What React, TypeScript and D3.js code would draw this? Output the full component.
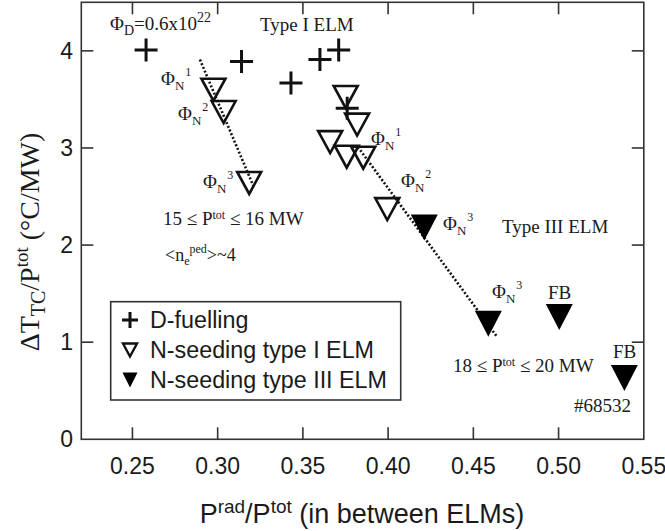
import React from "react";
import * as d3 from "d3";

// D-fuelling shots
const dFuelX = [0.258, 0.314, 0.343, 0.360, 0.371, 0.376];
const dFuelY = [4.01, 3.89, 3.67, 3.91, 4.01, 3.41];

// N-seeding, type I ELM
const nType1X = [0.2975, 0.3035, 0.3185, 0.3751, 0.3818, 0.366, 0.3757, 0.3854, 0.3995];
const nType1Y = [3.60, 3.37, 2.64, 3.525, 3.24, 3.06, 2.91, 2.90, 2.37];

// N-seeding, type III ELM
const nType3X = [0.4212, 0.4588, 0.5004, 0.5386];
const nType3Y = [2.18, 1.19, 1.26, 0.63];

// Trend lines through the N-seeding scans
const trendLowX = [0.2896, 0.3209];
const trendLowY = [3.91, 2.61];
const trendHighX = [0.3823, 0.4637];
const trendHighY = [3.01, 1.06];

const xTicks = [0.25, 0.3, 0.35, 0.4, 0.45, 0.5, 0.55];
const yTicks = [0, 1, 2, 3, 4];

const W = 665;
const H = 531;
const left = 81.3;
const right = 643.8;
const top = 2.3;
const bottom = 439.3;

const x = d3.scaleLinear().domain([0.22, 0.55]).range([left, right]);
const y = d3.scaleLinear().domain([0, 4.5]).range([bottom, top]);

const SERIF = "'Liberation Serif', 'Times New Roman', serif";
const SANS = "'Liberation Sans', Arial, sans-serif";
const INK = "#1a1a1a";

const crossPath = (s: number) => `M${-s},0H${s}M0,${-s}V${s}`;
const triPath = (w: number, h: number) =>
  `M${-w / 2},${-h / 2}L${w / 2},${-h / 2}L0,${h / 2}Z`;

const line = d3
  .line<[number, number]>()
  .x((d) => x(d[0]))
  .y((d) => y(d[1]));

function PhiN({ px, py, n }: { px: number; py: number; n: string }) {
  return (
    <text x={px} y={py} fontFamily={SERIF} fontSize={19} fill={INK}>
      Φ
      <tspan fontSize={13} dy={5}>N</tspan>
      <tspan fontSize={12} dy={-14} dx={1}>{n}</tspan>
    </text>
  );
}

export default function App() {
  const tickLen = 12;
  return (
    <div style={{ position: "absolute", left: 0, top: 0 }}>
      <svg width={W} height={H} style={{ display: "block", background: "#fff" }}>
        {/* frame */}
        <rect
          x={left}
          y={top}
          width={right - left}
          height={bottom - top}
          fill="none"
          stroke="#333"
          strokeWidth={1.6}
        />
        {/* x ticks, bottom and top */}
        {xTicks.slice(0, -1).map((t) => (
          <g key={`xt${t}`} stroke="#333" strokeWidth={1.6}>
            <line x1={x(t)} x2={x(t)} y1={bottom} y2={bottom - tickLen} />
            <line x1={x(t)} x2={x(t)} y1={top} y2={top + tickLen} />
          </g>
        ))}
        {xTicks.map((t) => (
          <text
            key={`xl${t}`}
            x={x(t)}
            y={474}
            textAnchor="middle"
            fontFamily={SANS}
            fontSize={23}
            fill={INK}
          >
            {d3.format(".2f")(t)}
          </text>
        ))}
        {/* y ticks, left and right */}
        {yTicks.map((t) => (
          <g key={`yt${t}`} stroke="#333" strokeWidth={1.6}>
            {t > 0 && <line x1={left} x2={left + tickLen} y1={y(t)} y2={y(t)} />}
            {t > 0 && <line x1={right} x2={right - tickLen} y1={y(t)} y2={y(t)} />}
          </g>
        ))}
        {yTicks.map((t) => (
          <text
            key={`yl${t}`}
            x={73}
            y={y(t) + 8}
            textAnchor="end"
            fontFamily={SANS}
            fontSize={23}
            fill={INK}
          >
            {t}
          </text>
        ))}

        {/* axis titles */}
        <text x={362} y={523} textAnchor="middle" fontFamily={SANS} fontSize={27} fill={INK}>
          P<tspan fontSize={19} dy={-10}>rad</tspan>
          <tspan dy={10}>/P</tspan>
          <tspan fontSize={19} dy={-10}>tot</tspan>
          <tspan dy={10}> (in between ELMs)</tspan>
        </text>
        <text
          transform="translate(39,242) rotate(-90)"
          textAnchor="middle"
          fontFamily={SERIF}
          fontSize={28}
          fill={INK}
        >
          ΔT<tspan fontSize={20} dy={6}>TC</tspan>
          <tspan dy={-6}>/P</tspan>
          <tspan fontSize={19} dy={-11}>tot</tspan>
          <tspan dy={11}> (°C/MW)</tspan>
        </text>

        {/* trend lines */}
        <path
          d={line(trendLowX.map((v, i) => [v, trendLowY[i]]) as [number, number][]) ?? ""}
          fill="none"
          stroke="#111"
          strokeWidth={2.6}
          strokeDasharray="2 2"
        />
        <path
          d={line(trendHighX.map((v, i) => [v, trendHighY[i]]) as [number, number][]) ?? ""}
          fill="none"
          stroke="#111"
          strokeWidth={2.6}
          strokeDasharray="2 2"
        />

        {/* markers */}
        {dFuelX.map((v, i) => (
          <path
            key={`d${i}`}
            transform={`translate(${x(v)},${y(dFuelY[i])})`}
            d={crossPath(11.5)}
            stroke="#111"
            strokeWidth={3}
            fill="none"
          />
        ))}
        {nType1X.map((v, i) => (
          <path
            key={`o${i}`}
            transform={`translate(${x(v)},${y(nType1Y[i])})`}
            d={triPath(24, 22)}
            stroke="#111"
            strokeWidth={2.6}
            strokeLinejoin="miter"
            fill="none"
          />
        ))}
        {nType3X.map((v, i) => (
          <path
            key={`f${i}`}
            transform={`translate(${x(v)},${y(nType3Y[i])})`}
            d={triPath(27, 26)}
            fill="#000"
          />
        ))}

        {/* annotations */}
        <text x={110} y={30} fontFamily={SERIF} fontSize={19} fill={INK}>
          Φ<tspan fontSize={14} dy={5}>D</tspan>
          <tspan dy={-5}>=0.6x10</tspan>
          <tspan fontSize={14} dy={-8}>22</tspan>
        </text>
        <text x={260} y={30.5} fontFamily={SERIF} fontSize={19} fill={INK}>
          Type I ELM
        </text>
        <PhiN px={161} py={85} n="1" />
        <PhiN px={178} py={120} n="2" />
        <PhiN px={203} py={188} n="3" />
        <PhiN px={371} py={145} n="1" />
        <PhiN px={401} py={187} n="2" />
        <PhiN px={443} py={230} n="3" />
        <PhiN px={492} py={298} n="3" />
        <text x={502} y={232.5} fontFamily={SERIF} fontSize={19} fill={INK}>
          Type III ELM
        </text>
        <text x={548} y={299} fontFamily={SERIF} fontSize={19} fill={INK}>
          FB
        </text>
        <text x={613} y={358} fontFamily={SERIF} fontSize={19} fill={INK}>
          FB
        </text>
        <text x={574} y={412} fontFamily={SERIF} fontSize={19} fill={INK}>
          #68532
        </text>
        <text x={163} y={225} fontFamily={SERIF} fontSize={19} fill={INK}>
          15 ≤ P<tspan fontSize={12} dy={-6}>tot</tspan>
          <tspan dy={6}> ≤ 16 MW</tspan>
        </text>
        <text x={453} y={372} fontFamily={SERIF} fontSize={19} fill={INK}>
          18 ≤ P<tspan fontSize={12} dy={-6}>tot</tspan>
          <tspan dy={6}> ≤ 20 MW</tspan>
        </text>
        <text x={165} y={261} fontFamily={SERIF} fontSize={18} fill={INK}>
          {"<n"}
          <tspan fontSize={12} dy={4}>e</tspan>
          <tspan fontSize={12} dy={-12}>ped</tspan>
          <tspan dy={8}>{">~4"}</tspan>
        </text>

        {/* legend */}
        <rect
          x={110.7}
          y={301.7}
          width={290}
          height={98.3}
          fill="#fff"
          stroke="#333"
          strokeWidth={1.6}
        />
        <path
          transform="translate(130,320)"
          d={crossPath(8)}
          stroke="#111"
          strokeWidth={3}
          fill="none"
        />
        <path
          transform="translate(130,350)"
          d={triPath(14, 13)}
          stroke="#111"
          strokeWidth={2.4}
          fill="none"
        />
        <path transform="translate(130,380)" d={triPath(15, 15)} fill="#000" />
        <text x={150} y={328} fontFamily={SANS} fontSize={23.3} fill={INK}>
          D-fuelling
        </text>
        <text x={150} y={358} fontFamily={SANS} fontSize={23.3} fill={INK}>
          N-seeding type I ELM
        </text>
        <text x={150} y={388} fontFamily={SANS} fontSize={23.3} fill={INK}>
          N-seeding type III ELM
        </text>
      </svg>
    </div>
  );
}
